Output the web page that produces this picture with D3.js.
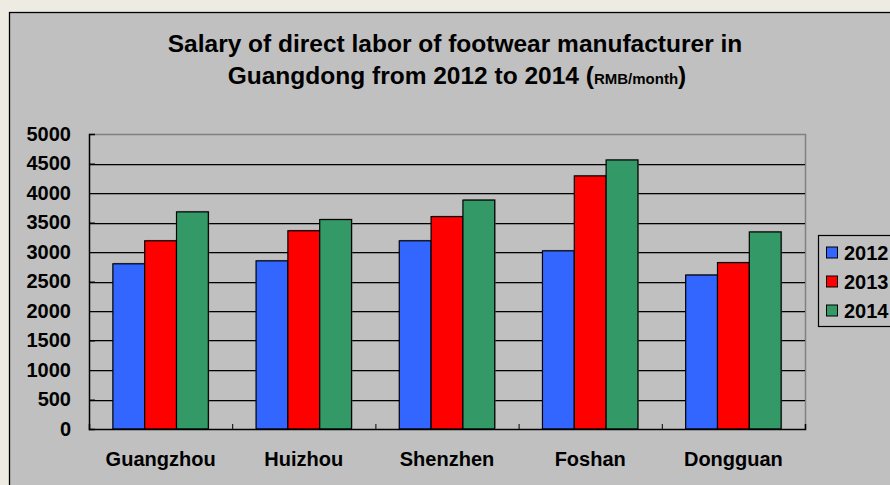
<!DOCTYPE html>
<html>
<head>
<meta charset="utf-8">
<script src="https://cdn.jsdelivr.net/npm/d3@7/dist/d3.min.js"></script>
<style>
  html, body { margin: 0; padding: 0; background: #eeece2; }
  #chart text { font-family: "Liberation Sans", Arial, sans-serif; font-weight: bold; fill: #000; }
  .axis path, .axis line { stroke: #000; }
</style>
</head>
<body>
<div id="chart"><svg></svg></div>
<script>
var cities = ["Guangzhou", "Huizhou", "Shenzhen", "Foshan", "Dongguan"];
var years = ["2012", "2013", "2014"];
var salary2012 = [2800, 2850, 3190, 3020, 2610];
var salary2013 = [3190, 3360, 3600, 4290, 2820];
var salary2014 = [3680, 3550, 3880, 4560, 3340];
var yTicks = [0, 500, 1000, 1500, 2000, 2500, 3000, 3500, 4000, 4500, 5000];
var colors = ["#3366ff", "#ff0000", "#339966"];

var series = [salary2012, salary2013, salary2014];
var rows = cities.map(function(c, i) {
  return { city: c, values: years.map(function(y, j) { return { year: y, value: series[j][i] }; }) };
});

var W = 890, H = 485;
var plot = { left: 89, right: 805, top: 134, bottom: 429 };

var svg = d3.select("#chart svg").
  attr("width", W).
  attr("height", H);

// chart frame
svg.append("rect").
  attr("x", 9.5).attr("y", 12.5).
  attr("width", W + 20).attr("height", H + 20).
  attr("fill", "#c0c0c0").
  attr("stroke", "#000").
  attr("stroke-width", 1.3);

var x0 = d3.scaleBand().
  domain(cities).
  range([plot.left, plot.right]).
  paddingInner(1 / 3).
  paddingOuter(1 / 6);

var x1 = d3.scaleBand().
  domain(years).
  range([0, x0.bandwidth()]);

var y = d3.scaleLinear().
  domain([0, 5000]).
  range([plot.bottom, plot.top]);

var color = d3.scaleOrdinal().domain(years).range(colors);

// plot border (top / right)
svg.append("path").
  attr("d", "M" + plot.left + "," + (plot.top + 0.5) + "H" + (plot.right + 0.5) + "V" + plot.bottom).
  attr("fill", "none").
  attr("stroke", "#808080").
  attr("stroke-width", 1.5);

// gridlines with a light shadow
var grid = yTicks.filter(function(d) { return d > 0 && d < 5000; });
svg.append("g").selectAll("line").data(grid).enter().append("line").
  attr("x1", plot.left).attr("x2", plot.right).
  attr("y1", function(d) { return Math.round(y(d)) + 1.5; }).
  attr("y2", function(d) { return Math.round(y(d)) + 1.5; }).
  attr("stroke", "#8a8a8a").
  attr("stroke-width", 1);
svg.append("g").selectAll("line").data(grid).enter().append("line").
  attr("x1", plot.left).attr("x2", plot.right).
  attr("y1", function(d) { return Math.round(y(d)) + 0.5; }).
  attr("y2", function(d) { return Math.round(y(d)) + 0.5; }).
  attr("stroke", "#000").
  attr("stroke-width", 1.2);

// bars
var groups = svg.append("g").selectAll("g").data(rows).enter().append("g").
  attr("transform", function(d) { return "translate(" + x0(d.city) + ",0)"; });

groups.selectAll("rect.shadow").data(function(d) { return d.values; }).enter().append("rect").
  attr("class", "shadow").
  attr("x", function(d) { return x1(d.year) + 1; }).
  attr("y", function(d) { return y(d.value) - 1; }).
  attr("width", x1.bandwidth()).
  attr("height", function(d) { return plot.bottom - y(d.value); }).
  attr("fill", "#7a7a7a").
  attr("opacity", 0.6);

groups.selectAll("rect.bar").data(function(d) { return d.values; }).enter().append("rect").
  attr("class", "bar").
  attr("x", function(d) { return x1(d.year); }).
  attr("y", function(d) { return y(d.value); }).
  attr("width", x1.bandwidth()).
  attr("height", function(d) { return plot.bottom - y(d.value); }).
  attr("fill", function(d) { return color(d.year); }).
  attr("stroke", "#000").
  attr("stroke-width", 1.2);

// y axis
var yAxis = d3.axisLeft(y).
  tickValues(yTicks).
  tickSize(-6).
  tickPadding(18).
  tickFormat(d3.format("d"));

var gY = svg.append("g").
  attr("class", "y axis").
  attr("transform", "translate(" + plot.left + ",0)").
  call(yAxis);
gY.select(".domain").attr("stroke-width", 1.5);
gY.selectAll("text").style("font-size", "20px");

// x axis: boundary ticks
var xIdx = d3.scaleLinear().domain([0, cities.length]).range([plot.left, plot.right]);
var gXt = svg.append("g").
  attr("class", "x axis").
  attr("transform", "translate(0," + plot.bottom + ")").
  call(d3.axisBottom(xIdx).tickValues(d3.range(1, cities.length)).tickSize(-5).tickFormat(""));
gXt.select(".domain").attr("stroke-width", 1.5);

var gX = svg.append("g").
  attr("class", "x axis labels").
  attr("transform", "translate(0," + plot.bottom + ")").
  call(d3.axisBottom(x0).tickSize(0).tickPadding(23));
gX.select(".domain").remove();
gX.selectAll("text").style("font-size", "20px");

// title
var title = svg.append("text").
  attr("text-anchor", "middle").
  style("font-size", "24.5px");
title.append("tspan").
  attr("x", 455).attr("y", 52).
  text("Salary of direct labor of footwear manufacturer in");
var t2 = title.append("tspan").attr("x", 457).attr("y", 83.5);
t2.append("tspan").text("Guangdong from 2012 to 2014 (");
t2.append("tspan").style("font-size", "15px").text("RMB/month");
t2.append("tspan").text(")");

// legend
var legend = svg.append("g").attr("transform", "translate(818.5,235.5)");
legend.append("rect").
  attr("width", 100).attr("height", 91).
  attr("fill", "#c0c0c0").
  attr("stroke", "#000").
  attr("stroke-width", 1.2);

var items = legend.selectAll("g.item").data(years).enter().append("g").
  attr("class", "item").
  attr("transform", function(d, i) { return "translate(0," + (17 + i * 29) + ")"; });

items.append("rect").
  attr("x", 8).attr("y", -5.5).
  attr("width", 11).attr("height", 11).
  attr("fill", function(d) { return color(d); }).
  attr("stroke", "#000").
  attr("stroke-width", 1);

items.append("text").
  attr("x", 25.5).
  attr("dy", "0.36em").
  style("font-size", "20px").
  text(function(d) { return d; });
</script>
</body>
</html>
